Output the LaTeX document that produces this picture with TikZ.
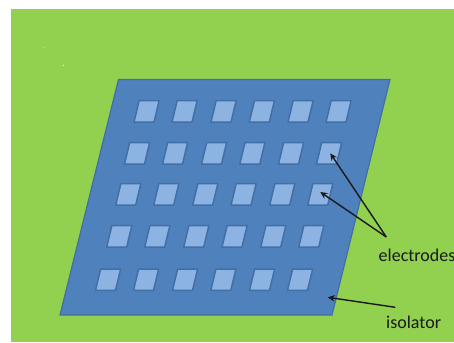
\documentclass[tikz,border=0pt]{standalone}
\usepackage{fontspec}
\setmainfont{Carlito}
\usetikzlibrary{arrows.meta}
\definecolor{bggreen}{HTML}{92D050}
\definecolor{isoblue}{HTML}{4F81BD}
\definecolor{edgeblue}{HTML}{416FA6}
\definecolor{padblue}{HTML}{8DB3E2}
\tikzset{
  pad/.style={fill=padblue,draw=edgeblue,line width=1.5pt,line join=round},
  plate/.style={fill=isoblue,draw=edgeblue,line width=1.2pt,line join=miter},
  label/.style={inner sep=0pt,anchor=base west,text=black!90,font=\fontsize{18}{20}\selectfont},
  pointer/.style={draw=black!90,line width=1.4pt,-{Stealth[length=7pt,width=6.5pt]}},
  speck/.style={fill=white,draw=none}
}
\begin{document}
\begin{tikzpicture}[x=1pt,y=-1pt]
\useasboundingbox (0,0) rectangle (454,342);
\fill[white] (0,0) rectangle (454,342);
\fill[bggreen] (11,9) rectangle (454,342);
\fill[speck] (44.3,47.3) circle (0.4);
\fill[speck] (63.3,65.3) circle (0.6);
\draw[plate] (118.5,79.5) -- (390,79.5) -- (332,315) -- (60,315) -- cycle;
% rows: bottom-left x, top y, bottom y
\foreach \bl/\ty/\by in {134/100.5/122, 124.5/142.5/164, 115.7/183.7/205, 106.7/225.5/247, 95.5/269/290.3}{
  \foreach \dx in {0,38,77,115.3,154,192}{
    \pgfmathsetmacro{\xa}{\bl+\dx}
    \pgfmathsetmacro{\sk}{(\by-\ty)*0.2412}
    \draw[pad] (\xa,\by) -- (\xa+\sk,\ty) -- (\xa+\sk+20,\ty) -- (\xa+20,\by) -- cycle;
  }
}
\node[label] (electrodes) at (378.5,261.5) {electrodes};
\node[label] (isolator) at (386,328) {isolator};
\coordinate (fork) at (386.3,237);
\coordinate (isotail) at (395.3,307.3);
\coordinate (tipA) at (330.3,153.3);
\coordinate (tipB) at (320.3,192);
\coordinate (tipC) at (327.7,297.3);
\draw[pointer] (fork) -- (tipA);
\draw[pointer] (fork) -- (tipB);
\draw[pointer] (isotail) -- (tipC);
\end{tikzpicture}
\end{document}
